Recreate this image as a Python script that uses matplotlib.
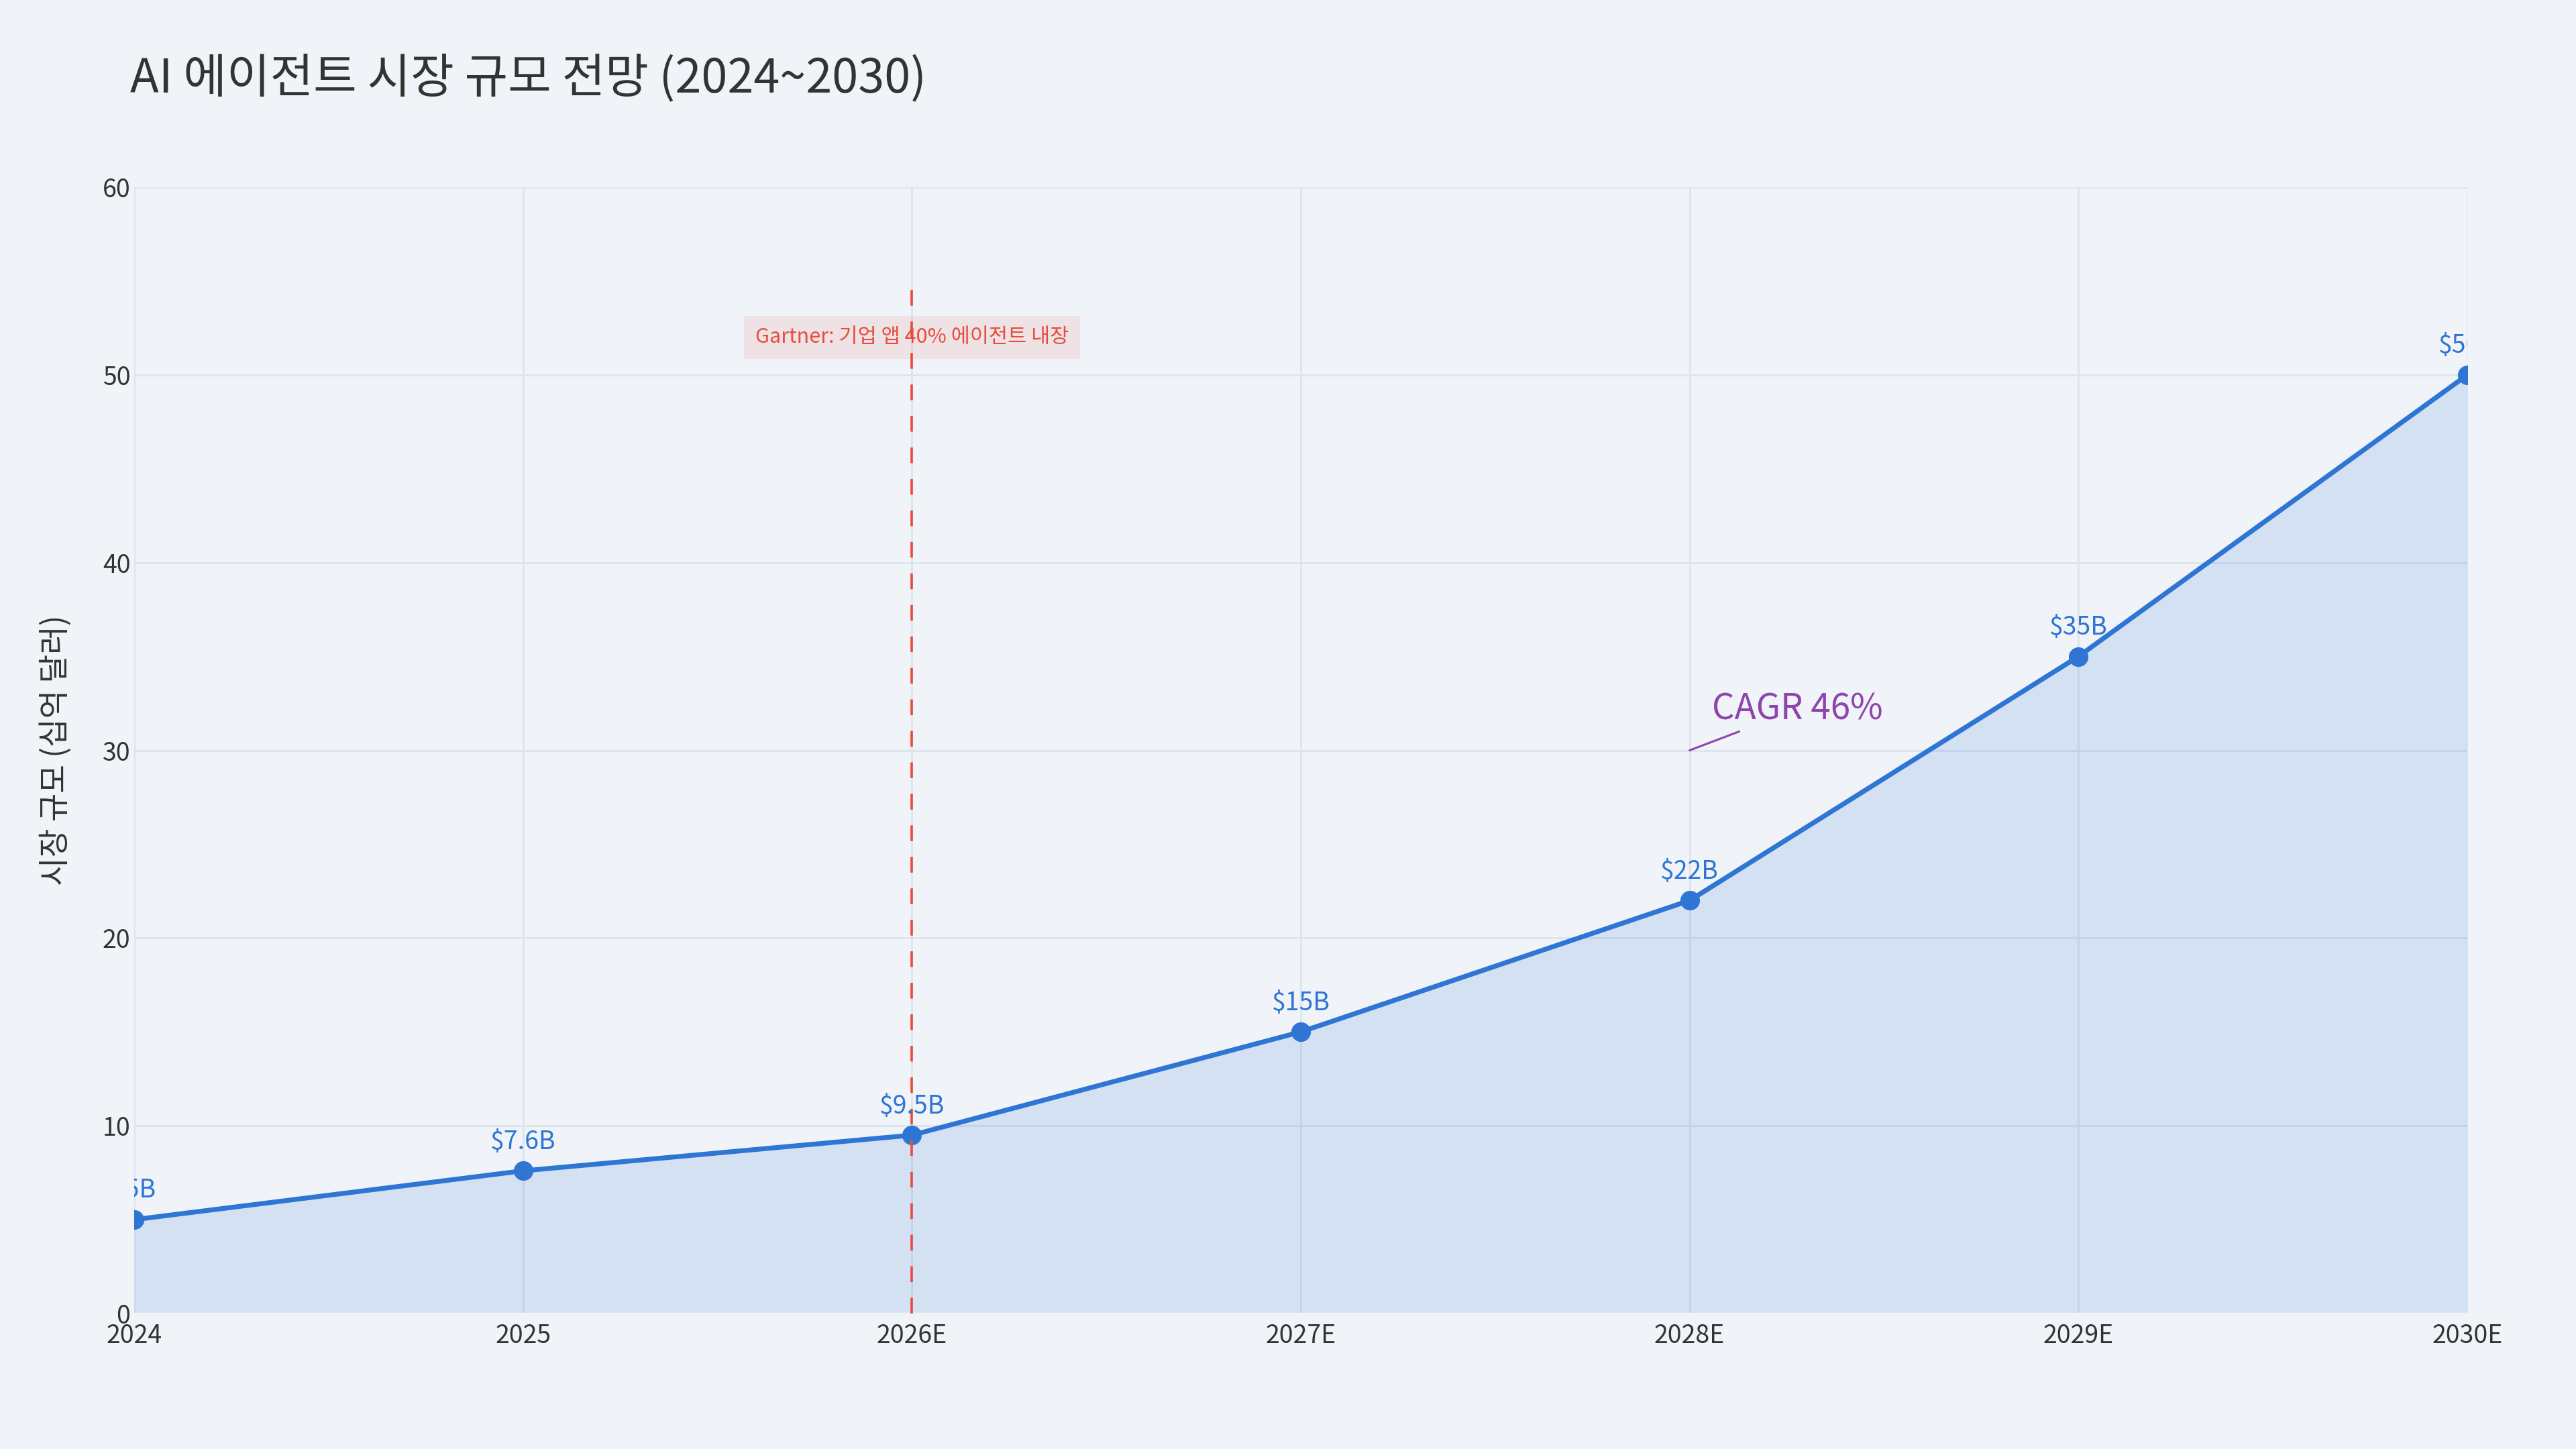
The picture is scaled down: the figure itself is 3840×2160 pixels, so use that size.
import matplotlib
matplotlib.use('Agg')
import matplotlib.pyplot as plt

plt.rcParams['font.family'] = ['Noto Sans CJK KR', 'DejaVu Sans']

# data
years = ['2024', '2025', '2026E', '2027E', '2028E', '2029E', '2030E']
market = [5, 7.6, 9.5, 15, 22, 35, 50]
labels = ['$5B', '$7.6B', '$9.5B', '$15B', '$22B', '$35B', '$50B']

title = 'AI 에이전트 시장 규모 전망 (2024~2030)'
ylabel = '시장 규모 (십억 달러)'
gartner_note = 'Gartner: 기업 앱 40% 에이전트 내장'
gartner_idx = 2
gartner_y = 52
gartner_line_top = 55
cagr_note = 'CAGR 46%'
cagr_idx = 4
cagr_y = 30

bg = '#f0f4f9'
blue = '#2e75d4'
red = '#e74c3c'
purple = '#8e44ad'
grid = '#dde4ed'
txt = '#333333'

fig = plt.figure(figsize=(19.2, 10.8), dpi=200)
fig.patch.set_facecolor(bg)
ax = fig.add_axes([200/3840, 1-1958/2160, 3478/3840, 1679/2160])
ax.set_facecolor(bg)

x = list(range(len(years)))

ax.fill_between(x, market, 0, color=blue, alpha=0.15, lw=0, zorder=2)
ax.plot(x, market, color=blue, lw=2.6, marker='o', ms=9.5, zorder=4)
ax.axhline(0, color='white', lw=1.2, zorder=3)

for xi, v, lab in zip(x, market, labels):
   ax.annotate(lab, xy=(xi, v), xytext=(0, 8.5), textcoords='offset points',
               ha='center', va='bottom', fontsize=13.5, color=blue,
               annotation_clip=False, clip_on=True, zorder=6)

# gartner line + note
ax.plot([gartner_idx, gartner_idx], [0, gartner_line_top], color=red, lw=1.3,
        ls=(0, (6.5, 6.5)), zorder=5)
ax.text(gartner_idx, gartner_y, gartner_note, ha='center', va='center',
        fontsize=11, color=red, zorder=7,
        bbox=dict(boxstyle='square,pad=0.55', fc=red, alpha=0.1, ec='none'))

# CAGR note
ax.annotate(cagr_note, xy=(cagr_idx, cagr_y), xytext=(58, 22), textcoords='offset points',
            ha='center', va='center', fontsize=19, color=purple, zorder=7,
            arrowprops=dict(arrowstyle='-', color=purple, lw=1.1, shrinkA=0, shrinkB=0))

ax.set_xlim(0, len(years)-1)
ax.set_ylim(0, 60)
ax.set_xticks(x)
ax.set_xticklabels(years)
ax.set_yticks(range(0, 61, 10))
ax.tick_params(axis='both', length=0, labelsize=13.5, labelcolor=txt)
ax.tick_params(axis='x', pad=5)
ax.tick_params(axis='y', pad=2)
ax.grid(True, color=grid, lw=1.0, zorder=0)
ax.set_axisbelow(True)
for s in ax.spines.values():
   s.set_visible(False)

ax.set_ylabel(ylabel, fontsize=16.7, color=txt)
ax.yaxis.set_label_coords(-0.0265, 0.5)

fig.text(194/3840, 1-137/2160, title, fontsize=25.3, color=txt, ha='left', va='baseline')

fig.savefig('out.png', dpi=200, facecolor=bg)
